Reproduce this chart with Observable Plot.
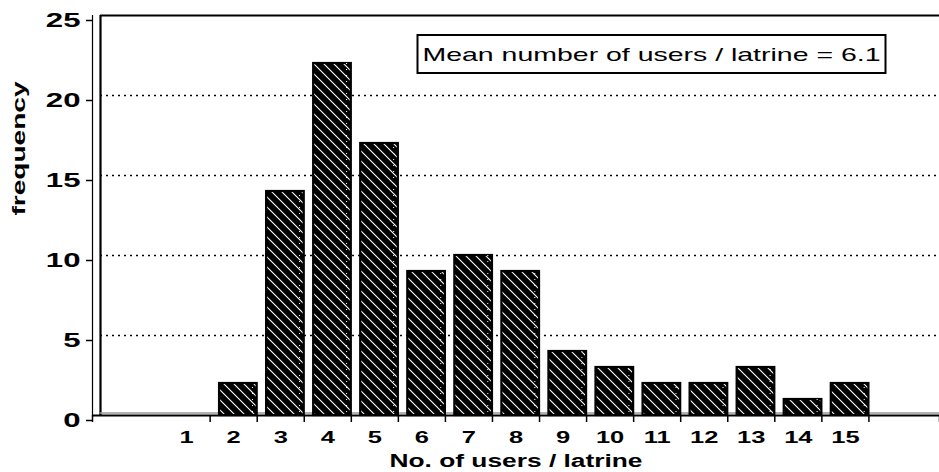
<!DOCTYPE html>
<html>
<head>
<meta charset="utf-8">
<script src="https://cdn.jsdelivr.net/npm/d3@7"></script>
<script src="https://cdn.jsdelivr.net/npm/@observablehq/plot@0.6"></script>
<style>
  html, body { margin: 0; padding: 0; background: #fff; }
  svg { font-family: "Liberation Sans", Arial, sans-serif; }
</style>
</head>
<body>
<div id="chart"></div>
<script>
// Data
const users = [1, 2, 3, 4, 5, 6, 7, 8, 9, 10, 11, 12, 13, 14, 15];
const frequency = [0, 2, 14, 22, 17, 9, 10, 9, 4, 3, 2, 2, 3, 1, 2];
const yTicks = [0, 5, 10, 15, 20, 25];
const gridValues = [5, 10, 15, 20];
const xTitle = "No. of users / latrine";
const yTitle = "frequency";
const note = "Mean number of users / latrine = 6.1";

const rows = users.map((u, i) => ({ u, f: frequency[i] }));
const boundaries = [-1, ...users.map(u => u + 0.5), 17];
const wallX = -0.83;

const svg = Plot.plot({
  width: 939,
  height: 472,
  marginLeft: 92,
  marginRight: 0,
  marginTop: 15,
  marginBottom: 57,
  x: { type: "linear", domain: [-1, 17] },
  y: { domain: [0, 25] },
  style: { fontFamily: "Liberation Sans, Arial, sans-serif", background: "white", color: "black" },
  marks: [
    // dotted grid
    Plot.ruleY(gridValues, { x1: wallX, x2: 17, stroke: "black", strokeWidth: 1.6, strokeDasharray: "2,4" }),
    // top frame
    Plot.ruleY([25], { x1: wallX, x2: 17, stroke: "black", strokeWidth: 2 }),
    // back wall left line
    Plot.ruleX([wallX], { y1: 0, y2: 25, stroke: "black", strokeWidth: 2.2 }),
    // floor
    Plot.ruleY([0], { x1: wallX, x2: 17, stroke: "#999", strokeWidth: 1.5, dy: -2.5 }),
    // bars
    Plot.rectY(rows.filter(d => d.f > 0), { x1: d => d.u - 0.3, x2: d => d.u + 0.5, y1: 0, y2: "f", fill: "url(#hatch)", stroke: "black", strokeWidth: 2.2 }),
    Plot.ruleX(rows.filter(d => d.f > 0), { x: d => d.u + 0.4, y1: 0, y2: "f", stroke: "white", strokeWidth: 1, strokeDasharray: "1,5", insetTop: 3 }),
    // baseline
    Plot.ruleY([0], { x1: -1, x2: 17, stroke: "black", strokeWidth: 2 }),
    // y axis line
    Plot.ruleX([-1], { y1: 0, y2: 25, stroke: "black", strokeWidth: 1.2 }),
    Plot.axisY({ ticks: yTicks, tickSize: 6, tickPadding: 6, fontSize: 19.5, fontWeight: "bold", dy: 5, label: null, strokeWidth: 1.5 }),
    // x boundary ticks
    Plot.axisX({ ticks: boundaries, tickSize: 7, tickFormat: () => "", label: null, strokeWidth: 1.5 }),
    // x labels
    Plot.axisX({ ticks: users, tickSize: 0, tickPadding: 15, fontSize: 17, fontWeight: "bold", label: null }),
    // titles
    Plot.text([xTitle], { text: d => d, frameAnchor: "bottom", dy: 46, lineAnchor: "middle", fontSize: 18, fontWeight: "bold", className: "xtitle" }),
    Plot.text([yTitle], { text: d => d, frameAnchor: "left", dx: -73, rotate: -90, fontSize: 18, fontWeight: "bold", className: "ytitle" }),
    // annotation
    Plot.text([note], { text: d => d, frameAnchor: "top-left", dx: 330, dy: 39, textAnchor: "start", lineAnchor: "middle", fontSize: 19, fill: "black", className: "note" })
  ]
});

const defs = document.createElementNS("http://www.w3.org/2000/svg", "defs");
defs.innerHTML = `<pattern id="hatch" patternUnits="userSpaceOnUse" width="10" height="10">
  <rect width="10" height="10" fill="black"></rect>
  <path d="M0,0 L10,10 M-5,5 L5,15 M5,-5 L15,5" stroke="white" stroke-width="1.1"></path>
</pattern>`;
svg.insertBefore(defs, svg.firstChild);
document.getElementById("chart").appendChild(svg);

// widen tick labels like the scanned original
function widen(selector, sx) {
  svg.querySelectorAll(selector).forEach(t => {
    let tr = t.getAttribute("transform");
    if (!tr) {
      const x = +(t.getAttribute("x") || 0), y = +(t.getAttribute("y") || 0);
      t.setAttribute("x", 0); t.setAttribute("y", 0);
      tr = `translate(${x},${y})`;
    }
    t.setAttribute("transform", tr + ` scale(${sx},1)`);
  });
}
widen('g[aria-label="y-axis tick label"] text', 1.6);
widen('g[aria-label="x-axis tick label"] text', 1.5);

function stretch(selector, len) {
  const t = svg.querySelector(selector);
  if (t) { t.setAttribute("textLength", len); t.setAttribute("lengthAdjust", "spacingAndGlyphs"); }
  return t;
}
stretch(".xtitle text", 253);
stretch(".ytitle text", 134);

// box around the note
const noteText = stretch(".note text", 458);
if (noteText) {
  const bb = noteText.getBBox();
  const ctm = noteText.getCTM();
  const box = document.createElementNS("http://www.w3.org/2000/svg", "rect");
  box.setAttribute("x", bb.x + (ctm ? ctm.e : 0) - 5);
  box.setAttribute("y", 35);
  box.setAttribute("width", bb.width + 10);
  box.setAttribute("height", 38);
  box.setAttribute("fill", "white");
  box.setAttribute("stroke", "black");
  box.setAttribute("stroke-width", 2);
  const g = noteText.closest("g");
  g.parentNode.insertBefore(box, g);
}
</script>
</body>
</html>
